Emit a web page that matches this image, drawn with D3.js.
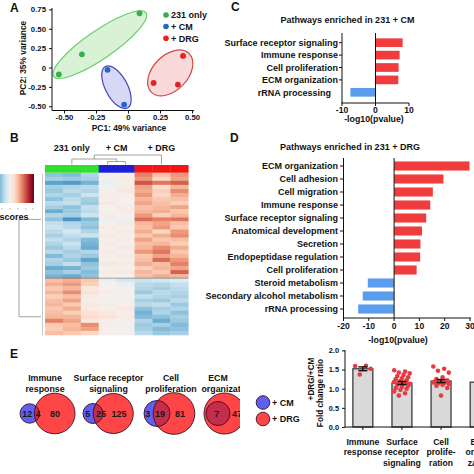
<!DOCTYPE html>
<html><head><meta charset="utf-8">
<script src="https://cdn.jsdelivr.net/npm/d3@7"></script>
<style>
html,body{margin:0;padding:0;background:#fff;}
svg{display:block;font-family:"Liberation Sans",Arial,sans-serif;font-weight:bold;}
</style></head><body><svg id="c" width="474" height="474"></svg>
<script>
// ================= DATA =================
// Panel A (PCA)
const pcaGroupNames = ["231 only", "+ CM", "+ DRG"];
const pcaPC1 = [-0.54, -0.36, 0.09, -0.16, -0.03, 0.43, 0.20, 0.39];
const pcaPC2 = [-0.09, 0.17, 0.70, -0.03, -0.48, 0.15, -0.20, -0.22];
const pcaGroupOf = [0, 0, 0, 1, 1, 2, 2, 2];
const pc1Ticks = [-0.5, -0.25, 0, 0.25, 0.5];
const pc2Ticks = [-0.5, -0.25, 0, 0.25, 0.5, 0.75];

// Panel C
const cmPathways = ["Surface receptor signaling", "Immune response", "Cell proliferation", "ECM organization", "rRNA processing"];
const cmLog10 = [8.1, 7.2, 6.9, 6.8, -7.5];
const cmTicks = [-10, 0, 10];

// Panel D
const drgPathways = ["ECM organization", "Cell adhesion", "Cell migration", "Immune response",
  "Surface receptor signaling", "Anatomical development", "Secretion", "Endopeptidase regulation",
  "Cell proliferation", "Steroid metabolism", "Secondary alcohol metabolism", "rRNA processing"];
const drgLog10 = [29.8, 19.5, 15.3, 14.3, 12.7, 11.0, 10.4, 10.3, 8.9, -10.4, -12.4, -14.2];
const drgTicks = [-20, -10, 0, 10, 20, 30];

// Panel B (heatmap, z-scores; columns: 3x 231 only, 2x +CM, 3x +DRG)
const heatGroups = ["231 only", "+ CM", "+ DRG"];
const heatColGroup = [0, 0, 0, 1, 1, 2, 2, 2];
const heatRows = [
  [-1.2,-1.3,-0.9,-0.1,0.1,1.5,0.9,1.3],
  [-1.0,-1.1,-1.0,0.0,0.2,1.3,0.6,1.2],
  [-1.6,-1.7,-1.4,-0.2,0.0,1.9,1.6,1.8],
  [-1.0,-0.9,-0.8,0.1,0.2,1.2,0.5,1.0],
  [-1.1,-0.8,-0.9,-0.1,0.3,1.1,0.7,1.4],
  [-0.9,-1.0,-0.6,0.2,0.1,1.3,0.6,1.1],
  [-1.2,-0.8,-1.0,0.0,0.1,1.0,0.8,0.9],
  [-0.8,-0.7,-1.1,0.3,0.0,1.2,0.9,0.7],
  [-1.0,-1.2,-0.7,0.1,0.2,0.9,1.0,1.2],
  [-1.5,-1.1,-0.8,-0.1,0.2,1.0,1.1,0.8],
  [-0.9,-1.0,-0.6,0.2,0.0,1.3,0.7,1.0],
  [-1.2,-1.8,-1.3,-0.2,-0.1,1.7,1.5,1.6],
  [-0.7,-0.9,-1.1,0.1,0.3,1.0,1.2,0.9],
  [-0.6,-0.8,-1.2,0.2,0.0,0.9,1.3,0.8],
  [-0.8,-0.5,-0.9,0.1,0.2,1.1,0.6,1.3],
  [-1.0,-0.7,-0.6,0.3,0.1,0.8,1.1,1.4],
  [-0.7,-0.9,-1.3,0.0,0.2,1.2,0.8,0.9],
  [-0.9,-0.6,-1.4,0.2,0.1,0.9,1.0,0.7],
  [-1.1,-0.8,-1.5,0.1,0.3,1.0,1.4,1.1],
  [-0.8,-1.0,-0.9,0.2,0.0,1.3,1.6,0.8],
  [-1.3,-0.9,-1.1,0.0,0.2,0.8,1.2,1.0],
  [-0.9,-1.1,-1.6,0.1,0.1,0.9,1.7,1.3],
  [-1.0,-0.7,-1.2,0.3,0.2,1.1,0.9,1.5],
  [-1.5,-1.4,-1.1,0.0,0.1,0.7,1.0,1.2],
  [-1.2,-1.0,-1.3,0.2,0.3,1.0,0.8,1.8],
  [-1.4,-1.5,-1.2,0.1,0.0,0.9,1.1,1.0],
  [0.9,1.1,0.8,-0.2,-0.5,-0.6,-0.5,-0.4],
  [1.1,1.3,0.7,0.0,-0.2,-0.8,-0.9,-0.7],
  [0.8,1.0,0.3,0.1,0.0,-0.9,-1.0,-0.8],
  [1.0,1.4,0.4,0.2,-0.1,-1.1,-0.8,-0.9],
  [0.7,0.9,0.2,0.0,0.1,-0.7,-0.9,-1.0],
  [0.9,1.2,0.1,0.1,0.0,-1.0,-1.1,-0.8],
  [1.0,0.8,0.3,0.2,0.1,-0.8,-0.7,-1.1],
  [0.8,1.1,0.2,0.0,0.3,-1.2,-1.0,-0.9],
  [0.9,0.7,0.4,0.3,0.1,-1.4,-0.9,-1.2],
  [1.0,1.0,0.5,0.4,0.2,-1.3,-1.2,-1.0],
  [1.5,1.2,0.3,0.1,0.0,-0.9,-1.5,-1.1],
  [0.8,0.9,1.4,0.2,0.1,-1.1,-1.0,-1.3],
  [0.7,1.0,1.2,0.0,-0.1,-1.0,-1.3,-1.2],
  [0.9,0.8,0.6,0.1,0.0,-0.8,-1.1,-1.0]
];
const heatClusterSplit = 26;
const rowDendroNodes = [11, 35];

// Panel E (Venn)
const vennTitles = [["Immune", "response"], ["Surface receptor", "signaling"], ["Cell", "proliferation"], ["ECM", "organization"]];
const vennCMonly = [12, 5, 3, null];
const vennBoth = [4, 25, 19, 7];
const vennDRGonly = [80, 125, 81, 47];
const vennLegend = ["+ CM", "+ DRG"];

// Panel E (fold change)
const foldCats = [["Immune", "response"], ["Surface", "receptor", "signaling"], ["Cell", "prolife-", "ration"], ["ECM", "organi-", "zation"]];
const foldMean = [1.52, 1.15, 1.20, 1.17];
const foldSem = [0.05, 0.04, 0.04, 0.03];
const foldImmune = [1.59, 1.60, 1.37, 1.52];
const foldSurface = [1.48,1.45,1.42,1.40,1.36,1.33,1.30,1.27,1.25,1.22,1.20,1.18,1.16,1.15,1.13,1.12,1.10,1.08,1.05,1.02,1.00,0.97,0.93,0.88,0.82];
const foldCell = [1.58,1.52,1.47,1.42,1.30,1.25,1.22,1.20,1.19,1.18,1.17,1.16,1.15,1.14,1.12,1.10,1.08,1.02,0.82];
const foldTicks = [0, 0.5, 1.0, 1.5, 2.0];

// ================= DRAWING =================
const svg = d3.select("#c");
const defs = svg.append("defs");
function txt(x, y, s, size, anchor, extra, parent) {
  const t = (parent || svg).append("text").attr("x", x).attr("y", y).attr("font-size", size)
    .attr("text-anchor", anchor || "start").attr("fill", "#111").text(s);
  if (extra) extra(t);
  return t;
}
function line(x1, y1, x2, y2, col, w) {
  return svg.append("line").attr("x1", x1).attr("y1", y1).attr("x2", x2).attr("y2", y2)
    .attr("stroke", col || "#111").attr("stroke-width", w || 1);
}

// panel letters
txt(10, 12, "A", 12); txt(10, 142, "B", 12); txt(231, 11, "C", 12); txt(230, 142, "D", 12); txt(10, 358, "E", 12);

// ---------- Panel A ----------
const xA = d3.scaleLinear().domain([0, 0.5]).range([128, 192]);
const yA = d3.scaleLinear().domain([0, 0.75]).range([67.5, 9.4]);
const grpCol = ["#33b24a", "#2266cc", "#e42222"];
const ellStroke = ["#66d066", "#4444bb", "#d24848"];
const ellFill = ["#d9f2d5", "#d7d8f6", "#f8d9d9"];
const ellipses = [
  {g: 0, cx: -0.22, cy: 0.295, rx: 56, ry: 14, a: -34.5},
  {g: 1, cx: -0.09, cy: -0.255, rx: 23.5, ry: 11, a: 62},
  {g: 2, cx: 0.33, cy: -0.07, rx: 27, ry: 17.5, a: -46}
];
ellipses.forEach(e => {
  svg.append("ellipse").attr("transform", `translate(${xA(e.cx)},${yA(e.cy)}) rotate(${e.a})`)
    .attr("rx", e.rx).attr("ry", e.ry).attr("fill", ellFill[e.g]).attr("stroke", ellStroke[e.g]).attr("stroke-width", 1.2);
});
pcaPC1.forEach((v, i) => {
  svg.append("circle").attr("cx", xA(v)).attr("cy", yA(pcaPC2[i])).attr("r", 2.9).attr("fill", grpCol[pcaGroupOf[i]]);
});
const axAy = svg.append("g").attr("transform", "translate(52,0)")
  .call(d3.axisLeft(yA).tickValues(pc2Ticks).tickSize(3).tickFormat(d => d === 0 ? "0" : d.toFixed(2)));
axAy.select(".domain").attr("d", "M0,8V110.5");
const axAx = svg.append("g").attr("transform", "translate(0,110.5)")
  .call(d3.axisBottom(xA).tickValues(pc1Ticks).tickSize(3).tickFormat(d => d === 0 ? "0" : d.toFixed(2)));
axAx.select(".domain").attr("d", "M52,0H194");
[axAy, axAx].forEach(a => { a.selectAll("text").attr("font-size", 7.8).attr("font-family", null).attr("fill", "#111"); a.selectAll("line,path").attr("stroke", "#111"); });
axAx.selectAll("text").attr("y", 4);
txt(23, 58, "PC2: 35% variance", 8.4, "middle", t => t.attr("transform", "rotate(-90,23,58)").attr("dy", "0.35em"));
txt(129, 130.5, "PC1: 49% variance", 8.4, "middle");
pcaGroupNames.forEach((n, i) => {
  const y = [15, 26.5, 38.3][i];
  svg.append("circle").attr("cx", 166).attr("cy", y).attr("r", 2.8).attr("fill", grpCol[i]);
  txt(171, y + 3.3, n, 9);
});

// ---------- Panel C ----------
const xC = d3.scaleLinear().domain([-10, 10]).range([342, 409]);
const yC = d3.scaleBand().domain(cmPathways).range([36.5, 98.5]).paddingInner(0.3).paddingOuter(0.15);
txt(347.5, 23, "Pathways enriched in 231 + CM", 9, "middle");
cmPathways.forEach((p, i) => {
  const v = cmLog10[i];
  svg.append("rect").attr("x", xC(Math.min(0, v))).attr("y", yC(p)).attr("width", Math.abs(xC(v) - xC(0)))
    .attr("height", yC.bandwidth()).attr("fill", v > 0 ? "#f03c3c" : "#5b9ded");
  const cy = yC(p) + yC.bandwidth() / 2;
  if (i < cmPathways.length - 1) { line(339, cy, 342, cy); txt(338, cy + 3.2, p, 9, "end"); }
  else txt(331, cy + 3.2, p, 9, "end");
});
line(342, 33, 342, 103.5);
line(xC(0), 33, xC(0), 103);
line(341.5, 103, 409, 103);
cmTicks.forEach(t => { line(xC(t), 103, xC(t), 106); txt(xC(t), 113, String(t), 8.6, "middle"); });
txt(374, 122, "-log10(pvalue)", 8.8, "middle");

// ---------- Panel D ----------
const xD = d3.scaleLinear().domain([-20, 30]).range([343.5, 470]);
const yD = d3.scaleBand().domain(drgPathways).range([159.5, 315.5]).paddingInner(0.3).paddingOuter(0.15);
txt(350, 150, "Pathways enriched in 231 + DRG", 9, "middle");
drgPathways.forEach((p, i) => {
  const v = drgLog10[i];
  svg.append("rect").attr("x", xD(Math.min(0, v))).attr("y", yD(p)).attr("width", Math.abs(xD(v) - xD(0)))
    .attr("height", yD.bandwidth()).attr("fill", v > 0 ? "#f03c3c" : "#5b9ded");
  const cy = yD(p) + yD.bandwidth() / 2;
  line(340, cy, 343.5, cy);
  txt(338, cy + 3.2, p, 9, "end");
});
line(343.5, 158, 343.5, 318.5);
line(xD(0), 158, xD(0), 318);
line(343, 318, 471, 318);
drgTicks.forEach(t => { line(xD(t), 318, xD(t), 321); txt(xD(t), 328.5, String(t), 8.6, "middle"); });
txt(398, 342.5, "-log10(pvalue)", 8.8, "middle");

// ---------- Panel B (heatmap) ----------
const nCols = heatColGroup.length;
const xH = d3.scaleBand().domain(d3.range(nCols)).range([45, 188.3]);
const yH = d3.scaleBand().domain(d3.range(heatRows.length)).range([172.7, 335]);
const zCol = z => d3.interpolateRdBu(0.5 - z / 6);
heatRows.forEach((row, r) => {
  row.forEach((z, c) => {
    svg.append("rect").attr("x", xH(c)).attr("y", yH(r)).attr("width", xH.bandwidth() + 0.3)
      .attr("height", yH.bandwidth() + 0.3).attr("fill", zCol(z));
  });
});
line(45, yH(heatClusterSplit), 188.3, yH(heatClusterSplit), "rgba(70,70,70,0.6)", 0.8);
const grpBar = ["#2fe02f", "#1e1ed8", "#f41414"];
heatColGroup.forEach((g, c) => {
  svg.append("rect").attr("x", xH(c)).attr("y", 165).attr("width", xH.bandwidth() + 0.3).attr("height", 7.7).attr("fill", grpBar[g]);
});
heatGroups.forEach((g, i) => {
  const cols = heatColGroup.map((gg, c) => gg === i ? c : -1).filter(c => c >= 0);
  const cx = (xH(cols[0]) + xH(cols[cols.length - 1]) + xH.bandwidth()) / 2;
  txt(cx, 150.5, g, 9, "middle");
});
const colC = c => xH(c) + xH.bandwidth() / 2;
const gC = [colC(1), (colC(3) + colC(4)) / 2, colC(6)];
const dg = "#8a8a8a";
line(colC(3), 161.5, colC(4), 161.5, dg, 0.8); line(colC(3), 161.5, colC(3), 164.5, dg, 0.8); line(colC(4), 161.5, colC(4), 164.5, dg, 0.8);
line(gC[0], 159, gC[1], 159, dg, 0.8); line(gC[0], 159, gC[0], 164.5, dg, 0.8); line(gC[1], 159, gC[1], 161.5, dg, 0.8);
const m01 = (gC[0] + gC[1]) / 2;
line(m01, 155, gC[2], 155, dg, 0.8); line(m01, 155, m01, 159, dg, 0.8); line(gC[2], 155, gC[2], 164.5, dg, 0.8);
const rc = r => yH(r) + yH.bandwidth() / 2;
line(19, rc(rowDendroNodes[0]), 19, rc(rowDendroNodes[1]), dg, 0.8);
line(19, rc(rowDendroNodes[0]), 41, rc(rowDendroNodes[0]), dg, 0.8);
line(19, rc(rowDendroNodes[1]), 41, rc(rowDendroNodes[1]), dg, 0.8);
line(42.5, 174, 42.5, 335, "#b0b0b0", 0.7);
const lg = defs.append("linearGradient").attr("id", "zg");
d3.range(0, 1.01, 0.1).forEach(t => lg.append("stop").attr("offset", t).attr("stop-color", d3.interpolateRdBu(0.72 * (1 - t))));
svg.append("rect").attr("x", 0).attr("y", 174).attr("width", 34).attr("height", 29).attr("fill", "url(#zg)");
[2, 10, 18, 26, 33].forEach(x => line(x, 208, x, 209.5, "#777", 0.6));
txt(28.5, 219.5, "z-scores", 9, "end");

// ---------- Panel E (Venn) ----------
defs.append("clipPath").attr("id", "eclip").append("rect").attr("x", 0).attr("y", 340).attr("width", 240).attr("height", 134);
const vg = svg.append("g").attr("clip-path", "url(#eclip)");
const vennLayout = [
  {bx: 29.7, br: 9.7, rx: 54.7, rr: 20.3, tx: [27.3, 38, 55], title: 45},
  {bx: 93, br: 10, rx: 113.3, rr: 20, tx: [87.7, 101, 119], title: 108.5},
  {bx: 157, br: 13, rx: 174, rr: 20.8, tx: [147.7, 160, 180], title: 171},
  {bx: 218, br: 12, rx: 224.5, rr: 20.5, tx: [null, 216.7, 237], title: 218}
];
const vy = 413.5;
vennLayout.forEach((L, i) => {
  defs.append("clipPath").attr("id", "rc" + i).append("circle").attr("cx", L.rx).attr("cy", vy).attr("r", L.rr);
  vg.append("circle").attr("cx", L.bx).attr("cy", vy).attr("r", L.br).attr("fill", "#5f5ff2");
  vg.append("circle").attr("cx", L.rx).attr("cy", vy).attr("r", L.rr).attr("fill", "#ff4646");
  vg.append("circle").attr("cx", L.bx).attr("cy", vy).attr("r", L.br).attr("fill", "#c62c4c").attr("clip-path", `url(#rc${i})`);
  vg.append("circle").attr("cx", L.bx).attr("cy", vy).attr("r", L.br).attr("fill", "none").attr("stroke", "#3a1020").attr("stroke-width", 0.9);
  vg.append("circle").attr("cx", L.rx).attr("cy", vy).attr("r", L.rr).attr("fill", "none").attr("stroke", "#3a1020").attr("stroke-width", 0.9);
  const vals = [vennCMonly[i], vennBoth[i], vennDRGonly[i]];
  vals.forEach((v, k) => { if (v !== null && L.tx[k] !== null) txt(L.tx[k], vy + 3.3, String(v), 9, "middle", t => t.attr("fill", "#1a1a1a"), vg); });
  const tt = vennTitles[i];
  txt(L.title, 380.5, tt[0], 8.8, "middle", null, vg);
  if (i < 3) txt(L.title, 391.5, tt[1], 8.8, "middle", null, vg);
  else txt(201.5, 391.5, tt[1], 8.8, "start", null, vg);
});
svg.append("circle").attr("cx", 263).attr("cy", 402.5).attr("r", 6.8).attr("fill", "#5f5ff2").attr("stroke", "#3a1020").attr("stroke-width", 0.9);
svg.append("circle").attr("cx", 263).attr("cy", 419).attr("r", 6.8).attr("fill", "#ff4646").attr("stroke", "#3a1020").attr("stroke-width", 0.9);
txt(272, 405.7, vennLegend[0], 9);
txt(272, 422.2, vennLegend[1], 9);

// ---------- Panel E (fold change bars) ----------
const fKeys = foldCats.map(d => d.join(" "));
const xF = d3.scaleBand().domain(fKeys).range([343.5, 499.5]).paddingInner(0.49).paddingOuter(0.24);
const yF = d3.scaleLinear().domain([0, 2]).range([427, 350.4]);
fKeys.forEach((k, i) => {
  svg.append("rect").attr("x", xF(k)).attr("y", yF(foldMean[i])).attr("width", xF.bandwidth())
    .attr("height", yF(0) - yF(foldMean[i])).attr("fill", "#d9d9d9").attr("stroke", "#3c3c3c").attr("stroke-width", 1.3);
});
const foldPts = [foldImmune, foldSurface, foldCell];
foldPts.forEach((pts, i) => {
  const cx = xF(fKeys[i]) + xF.bandwidth() / 2;
  pts.forEach((v, j) => {
    const off = (((j * 7) % 11) - 5) * 1.55;
    svg.append("circle").attr("cx", cx + off).attr("cy", yF(v)).attr("r", 2.3).attr("fill", "#e83a42");
  });
});
fKeys.forEach((k, i) => {
  const cx = xF(k) + xF.bandwidth() / 2;
  const lo = yF(foldMean[i] - foldSem[i]), hi = yF(foldMean[i] + foldSem[i]);
  line(cx, lo, cx, hi, "#111", 1.4);
  line(cx - 4.5, lo, cx + 4.5, lo, "#111", 1.4);
  line(cx - 4.5, hi, cx + 4.5, hi, "#111", 1.4);
  line(cx, 427, cx, 430);
  foldCats[i].forEach((s, j) => txt(cx, 444.5 + j * 10.5, s, 8.6, "middle"));
});
const axF = svg.append("g").attr("transform", "translate(345,0)")
  .call(d3.axisLeft(yF).tickValues(foldTicks).tickSize(3).tickFormat(d3.format(".1f")));
axF.select(".domain").attr("d", "M0,350V427");
axF.selectAll("text").attr("font-size", 7.4).attr("font-family", null).attr("fill", "#111");
axF.selectAll("line,path").attr("stroke", "#111");
line(345, 427, 474, 427);
txt(320, 393, "Fold change ratio", 8.2, "middle", t => t.attr("transform", "rotate(-90,320,393)").attr("dy", "0.35em"));
txt(311, 379, "+DRG/+CM", 8.2, "middle", t => t.attr("transform", "rotate(-90,311,379)").attr("dy", "0.35em"));
</script></body></html>
